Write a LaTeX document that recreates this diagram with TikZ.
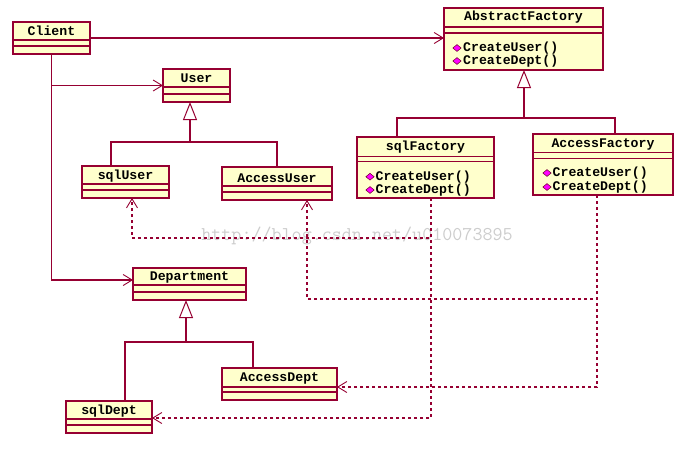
\documentclass[tikz,border=0pt]{standalone}
\usepackage{fontspec}
\newfontfamily\umlfont{Liberation Mono}
\usetikzlibrary{arrows.meta,shapes.geometric}
\definecolor{umlred}{RGB}{150,0,50}
\definecolor{umlfill}{RGB}{255,255,204}
\definecolor{gem}{RGB}{255,0,255}
\definecolor{wm}{RGB}{205,205,205}
\begin{document}
\begin{tikzpicture}[x=1pt,y=-1pt,
  cls/.style={draw=umlred, fill=umlfill, line width=1.2pt, anchor=north west, inner sep=0pt, outer sep=0pt},
  sepline/.style={draw=umlred, line width=1.1pt},
  ttl/.style={font=\umlfont\bfseries\fontsize{13.2}{13.2}\selectfont, inner sep=0pt},
  attr/.style={font=\umlfont\bfseries\fontsize{13.2}{13.2}\selectfont, inner sep=0pt, anchor=west},
  gemstyle/.style={diamond, draw=umlred!70!black, fill=gem, line width=0.5pt, inner sep=0pt, minimum width=8.5pt, minimum height=7pt},
  conn/.style={draw=umlred, line width=1.05pt},
  assoc/.style={conn, -{Straight Barb[length=9pt,width=11pt,line width=0.9pt]}},
  inh/.style={conn, -{Triangle[open,length=18pt,width=14pt,line width=1pt]}},
  dep/.style={conn, dash pattern=on 3pt off 3pt, -{Straight Barb[length=9pt,width=11pt,line width=0.9pt]}}
]
\useasboundingbox (0,0) rectangle (698,448);
\fill[white] (0,0) rectangle (698,448);

% watermark
\node[text=wm, font=\ttfamily\fontsize{19.5}{19.5}\selectfont, inner sep=0pt] (wmark) at (357,236) {http://blog.csdn.net/u010073895};

% ---------- class boxes ----------
\node[cls, minimum width=77pt, minimum height=32pt] (client) at (13,22) {};
\draw[sepline] (13,40) -- (90,40) (13,46) -- (90,46);
\node[ttl] (clientT) at (51.5,31) {Client};

\node[cls, minimum width=67pt, minimum height=33pt] (user) at (163,69) {};
\draw[sepline] (163,87) -- (230,87) (163,94) -- (230,94);
\node[ttl] (userT) at (196.5,78) {User};

\node[cls, minimum width=159pt, minimum height=62pt] (af) at (444,8) {};
\draw[sepline] (444,27) -- (603,27) (444,33) -- (603,33);
\node[ttl] (afT) at (523.5,17.5) {AbstractFactory};
\node[gemstyle] (afg1) at (457,48) {};
\node[attr] (afa1) at (463,48) {CreateUser()};
\node[gemstyle] (afg2) at (457,61) {};
\node[attr] (afa2) at (463,61) {CreateDept()};

\node[cls, minimum width=137pt, minimum height=61pt] (sqlf) at (357,137) {};
\draw[sepline] (357,156.7) -- (494,156.7) (357,161.7) -- (494,161.7);
\node[ttl] (sqlfT) at (425.5,147) {sqlFactory};
\node[gemstyle] (sqlfg1) at (370,176.7) {};
\node[attr] (sqlfa1) at (375.5,176.7) {CreateUser()};
\node[gemstyle] (sqlfg2) at (370,190) {};
\node[attr] (sqlfa2) at (375.5,190) {CreateDept()};

\node[cls, minimum width=140pt, minimum height=61pt] (accf) at (533,134) {};
\draw[sepline] (533,152.3) -- (673,152.3) (533,158.3) -- (673,158.3);
\node[ttl] (accfT) at (603,144) {AccessFactory};
\node[gemstyle] (accfg1) at (547,173) {};
\node[attr] (accfa1) at (552.5,173) {CreateUser()};
\node[gemstyle] (accfg2) at (547,187) {};
\node[attr] (accfa2) at (552.5,187) {CreateDept()};

\node[cls, minimum width=87pt, minimum height=32pt] (sqluser) at (82,166) {};
\draw[sepline] (82,184) -- (169,184) (82,190) -- (169,190);
\node[ttl] (sqluserT) at (125.5,175.7) {sqlUser};

\node[cls, minimum width=110pt, minimum height=33pt] (accuser) at (222,167) {};
\draw[sepline] (222,186) -- (332,186) (222,192) -- (332,192);
\node[ttl] (accuserT) at (277,178) {AccessUser};

\node[cls, minimum width=113pt, minimum height=32pt] (dept) at (133,268) {};
\draw[sepline] (133,285) -- (246,285) (133,292) -- (246,292);
\node[ttl] (deptT) at (189.5,277.7) {Department};

\node[cls, minimum width=115pt, minimum height=32pt] (accdept) at (222,368) {};
\draw[sepline] (222,387) -- (337,387) (222,392) -- (337,392);
\node[ttl] (accdeptT) at (279.5,378) {AccessDept};

\node[cls, minimum width=86pt, minimum height=32pt] (sqldept) at (66,401) {};
\draw[sepline] (66,419) -- (152,419) (66,425) -- (152,425);
\node[ttl] (sqldeptT) at (109,411) {sqlDept};

% ---------- junction coordinates ----------
\coordinate (uj) at (190,142);
\coordinate (afj) at (524,118);
\coordinate (dj) at (186,342);
\coordinate (d1) at (431,238);
\coordinate (d2) at (431,418);
\coordinate (d3) at (597,299);
\coordinate (d4) at (597,387);

% ---------- associations ----------
\draw[assoc] (client.east) -- (af.west |- client.east);
\draw[assoc] (client.south) |- (user.west);
\draw[assoc] (client.south) |- ([yshift=4pt]dept.west);

% ---------- generalizations ----------
\draw[inh] (uj) -- (user.south -| uj);
\draw[conn] ([xshift=-14.5pt]sqluser.north) |- (uj) -| (accuser.north);

\draw[inh] (afj) -- (af.south -| afj);
\draw[conn] ([xshift=-28.5pt]sqlf.north) |- (afj) -| ([xshift=12pt]accf.north);

\draw[inh] (dj) -- (dept.south -| dj);
\draw[conn] ([xshift=16pt]sqldept.north) |- (dj) -| ([xshift=-26.5pt]accdept.north);

% ---------- dependencies ----------
\draw[dep] ([xshift=5.5pt]sqlf.south) -- (d1) -| ([xshift=6.5pt]sqluser.south);
\draw[dep] ([xshift=5.5pt]sqlf.south) -- (d2) -- (sqldept.east |- d2);
\draw[dep] ([xshift=-6pt]accf.south) -- (d3) -| ([xshift=30pt]accuser.south);
\draw[dep] ([xshift=-6pt]accf.south) -- (d4) -- (accdept.east |- d4);
\end{tikzpicture}
\end{document}
